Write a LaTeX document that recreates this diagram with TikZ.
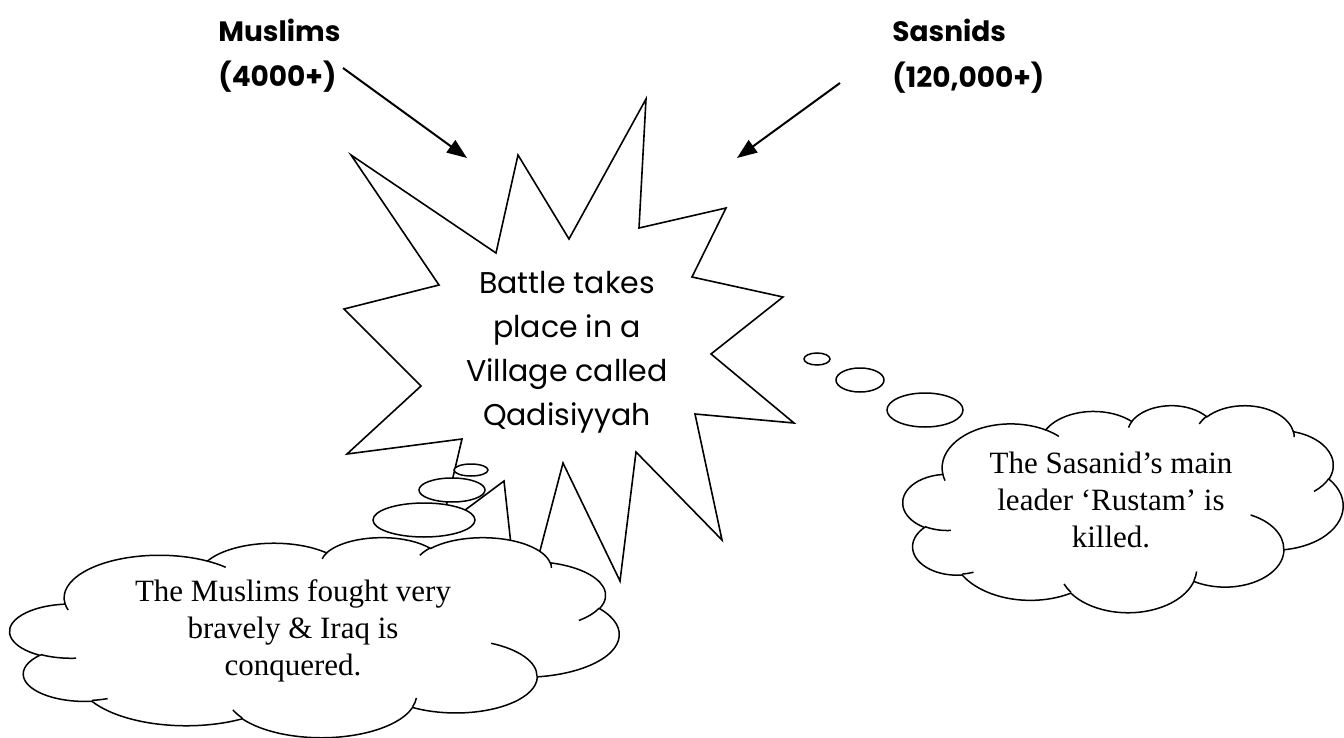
\documentclass[tikz,border=0pt]{standalone}
\usepackage{fontspec}
\setmainfont{Liberation Serif}
\newfontfamily\comicfont{Poppins}
\usetikzlibrary{arrows.meta}

% one lobe of the cloud: radii, start angle and sweep as seen on the ellipse
\newcommand\cloudarc[4]{arc[x radius=#1, y radius=#2,
  start angle={atan2((#1)*sin(#3),(#2)*cos(#3))},
  delta angle={mod(atan2((#1)*sin((#3)+(#4)),(#2)*cos((#3)+(#4)))-atan2((#1)*sin(#3),(#2)*cos(#3))+720,360)}]}

% outline of the cloud in a 432 x 432 box
\newcommand\cloudoutline{(39.00,143.70)
  \cloudarc{67.53}{91.90}{-190.487}{123.781}
  \cloudarc{53.33}{72.67}{-144.102}{89.945}
  \cloudarc{43.65}{59.45}{-145.808}{99.723}
  \cloudarc{48.57}{65.95}{-130.986}{117.242}
  \cloudarc{53.33}{72.73}{-78.709}{109.027}
  \cloudarc{67.75}{92.20}{-46.267}{130.269}
  \cloudarc{57.85}{78.67}{0.625}{114.033}
  \cloudarc{67.52}{92.15}{22.452}{115.173}
  \cloudarc{77.20}{105.43}{66.243}{75.711}
  \cloudarc{43.60}{59.18}{-274.942}{146.736}
  \cloudarc{43.45}{59.45}{-246.829}{152.519} -- cycle}

% small creases inside the cloud
\newcommand\cloudcreases{%
  (46.93,261.77) \cloudarc{43.45}{59.45}{86.742}{26.430}
  (69.28,348.99) \cloudarc{43.60}{59.18}{73.610}{11.447}
  (164.78,390.90) \cloudarc{67.52}{92.15}{137.624}{14.081}
  (288.27,347.51) \cloudarc{67.52}{92.15}{6.453}{15.998}
  (341.29,229.54) \cloudarc{57.85}{78.67}{-70.292}{70.917}
  (417.98,153.54) \cloudarc{53.33}{72.73}{30.318}{27.752}
  (383.24,54.26) \cloudarc{48.57}{65.95}{-13.744}{14.859}
  (290.78,39.52) \cloudarc{48.57}{65.95}{-149.181}{18.195}
  (221.41,47.20) \cloudarc{43.65}{59.45}{-163.494}{17.686}
  (140.00,51.92) \cloudarc{67.53}{91.90}{-66.707}{12.319}
  (41.27,157.89) \cloudarc{67.53}{91.90}{157.654}{11.858}}

\tikzset{
  starline/.style={draw, fill=white, line width=0.8pt, line join=miter},
  cloudline/.style={draw, fill=white, line width=0.75pt},
  bubble/.style={draw, fill=white, line width=0.75pt},
  armyarrow/.style={line width=1pt, -{Triangle[length=10pt, width=7.5pt]}},
  armylabel/.style={anchor=base west, inner sep=0pt, font=\comicfont\bfseries\fontsize{14}{17}\selectfont},
  startext/.style={align=center, inner sep=0pt, font=\comicfont\fontsize{15}{22}\selectfont},
  cloudtext/.style={align=center, inner sep=0pt, font=\fontsize{15.5}{18.5}\selectfont}
}

\begin{document}
\begin{tikzpicture}[x=0.5pt, y=-0.5pt]

  % Seite
  \fill[white] (0,0) rectangle (1344,738);
  \useasboundingbox (0,0) rectangle (1344,738);

  % Explosion in der Mitte
  \draw[starline] (351,155) -- (496,253) -- (518,155) -- (569,239) -- (646,99)
    -- (639,228) -- (726,208) -- (692,277) -- (783,297) -- (711,354) -- (794,423)
    -- (695,414) -- (722,540) -- (636,452) -- (620,581) -- (563,463) -- (520,627)
    -- (504,481) -- (441,528) -- (462,439) -- (347,454) -- (421,386) -- (344,309)
    -- (439,285) -- cycle;
  \node[startext] (battle) at (567,352) {Battle takes\\place in a\\Village called\\Qadisiyyah};

  % Wolke links unten
  \begin{scope}[shift={(10,537)}, x=0.7049pt, y=-0.2315pt]
    \draw[cloudline] \cloudoutline;
    \draw[line width=0.75pt] \cloudcreases;
  \end{scope}
  \draw[bubble] (424,520) ellipse [x radius=51, y radius=17];
  \draw[bubble] (452,490) ellipse [x radius=33, y radius=12];
  \draw[bubble] (471,470) ellipse [x radius=17, y radius=6];
  \node[cloudtext] (muslimtext) at (293,631) {The Muslims fought very\\bravely \& Iraq is\\conquered.};

  % Wolke rechts
  \begin{scope}[shift={(903,405)}, x=0.5093pt, y=-0.2396pt]
    \draw[cloudline] \cloudoutline;
    \draw[line width=0.75pt] \cloudcreases;
  \end{scope}
  \draw[bubble] (925,410) ellipse [x radius=38, y radius=17];
  \draw[bubble] (860,380) ellipse [x radius=24, y radius=12];
  \draw[bubble] (817,359) ellipse [x radius=13, y radius=6];
  \node[cloudtext] (sasanidtext) at (1111,500) {The Sasanid’s main\\leader ‘Rustam’ is\\killed.};

  % Heere mit Pfeilen
  \node[armylabel] (muslims) at (218,42) {Muslims};
  \node[armylabel] (muslimsnum) at (218,87) {(4000+)};
  \node[armylabel] (sasnids) at (892,42) {Sasnids};
  \node[armylabel] (sasnidsnum) at (892,88) {(120,000+)};
  \coordinate (mtail) at (343,68);
  \coordinate (mhead) at (467,158);
  \coordinate (stail) at (840,83);
  \coordinate (shead) at (737,158);
  \draw[armyarrow] (mtail) -- (mhead);
  \draw[armyarrow] (stail) -- (shead);

\end{tikzpicture}
\end{document}
